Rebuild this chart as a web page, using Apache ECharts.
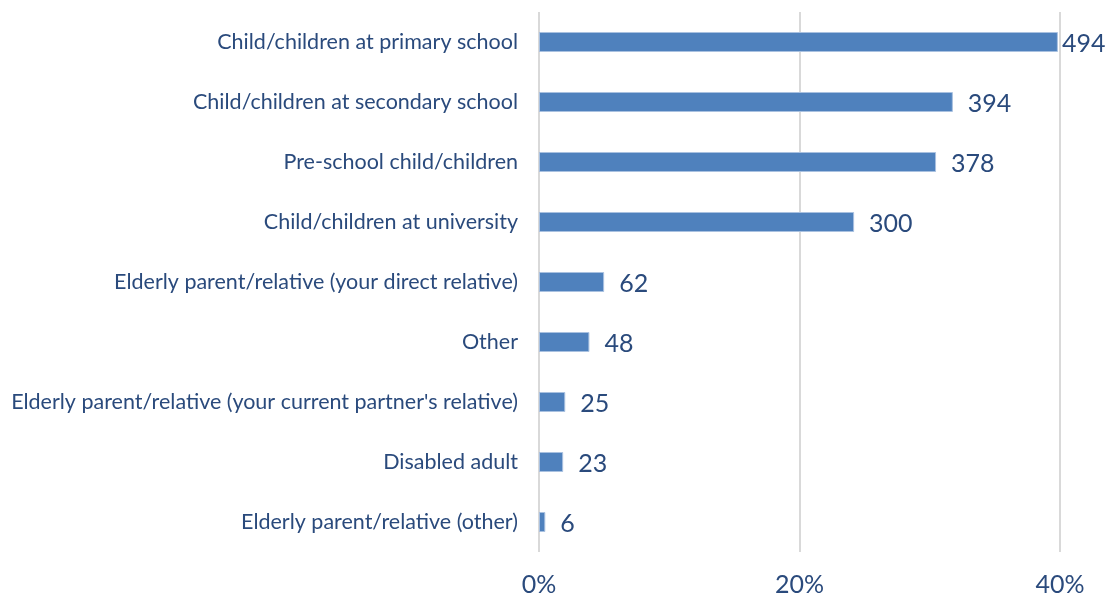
<!DOCTYPE html>
<html>
<head>
<meta charset="utf-8">
<script src="https://cdn.jsdelivr.net/npm/echarts@6/dist/echarts.min.js"></script>
<style>
  html, body { margin: 0; padding: 0; background: #ffffff; }
  #chart { width: 1112px; height: 601px; }
</style>
</head>
<body>
<div id="chart"></div>
<script>
// Caring responsibilities: number of respondents per category
const categories = [
  "Child/children at primary school",
  "Child/children at secondary school",
  "Pre-school child/children",
  "Child/children at university",
  "Elderly parent/relative (your direct relative)",
  "Other",
  "Elderly parent/relative (your current partner's relative)",
  "Disabled adult",
  "Elderly parent/relative (other)"
];
const counts = [494, 394, 378, 300, 62, 48, 25, 23, 6];
const totalRespondents = 1240;
const tickValues = [0, 20, 40];

const textColor = '#2a4a7c';
const maxCount = Math.max(...counts);

// Bar length is the share of respondents; the label shows the count
const seriesData = counts.map(function (c) {
  const item = { value: c / totalRespondents * 100, count: c };
  if (c === maxCount) {
    // keep the longest bar's label inside the chart
    item.label = { distance: 4 };
  }
  return item;
});

const chart = echarts.init(document.getElementById('chart'));
chart.setOption({
  animation: false,
  grid: { left: 539, right: 52, top: 12, bottom: 49 },
  xAxis: {
    type: 'value',
    min: tickValues[0],
    max: tickValues[tickValues.length - 1],
    interval: tickValues[1] - tickValues[0],
    axisLine: { show: false },
    axisTick: { show: false },
    splitLine: { lineStyle: { color: '#d9d9d9', width: 2 } },
    axisLabel: {
      formatter: '{value}%',
      color: textColor,
      fontFamily: 'Lato',
      fontSize: 25,
      margin: 20
    }
  },
  yAxis: {
    type: 'category',
    data: categories,
    inverse: true,
    axisLine: { show: false },
    axisTick: { show: false },
    splitLine: { show: false },
    axisLabel: {
      color: textColor,
      fontFamily: 'Lato',
      fontSize: 21.5,
      margin: 21,
      padding: [2, 0, 0, 0]
    }
  },
  series: [{
    type: 'bar',
    data: seriesData,
    barWidth: 20,
    itemStyle: { color: '#4f81bd', borderColor: '#a9c1e0', borderWidth: 1 },
    label: {
      show: true,
      position: 'right',
      distance: 15,
      offset: [0, 2],
      color: textColor,
      fontFamily: 'Lato',
      fontSize: 25,
      formatter: function (p) { return p.data.count; }
    }
  }]
});
</script>
</body>
</html>
